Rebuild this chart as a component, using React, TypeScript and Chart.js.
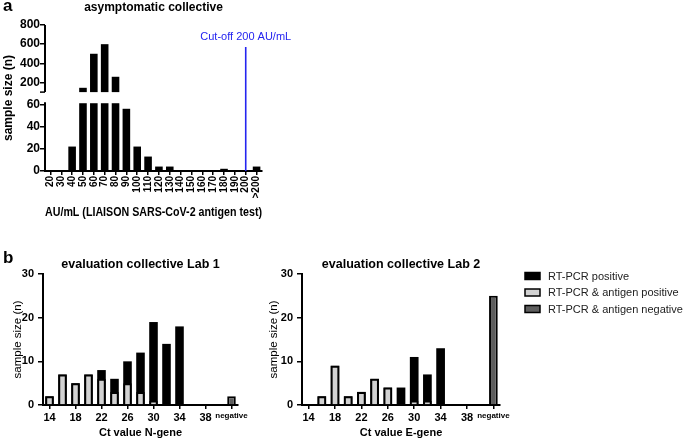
import React, { useEffect, useRef } from 'react';
import { Chart, registerables } from 'chart.js';

Chart.register(...registerables);

const FONT = "'Liberation Sans', Arial, Helvetica, sans-serif";

// ---------- Panel a: asymptomatic collective ----------
const aCategories = ['20', '30', '40', '50', '60', '70', '80', '90', '100', '110', '120', '130', '140', '150', '160', '170', '180', '190', '200', '>200'];
const aCounts = [0, 0, 22, 145, 500, 600, 260, 56, 22, 13, 4, 4, 0, 0, 0, 0, 2, 0, 0, 4];
const aYTicks = [0, 20, 40, 60, 200, 400, 600, 800];
const aCutoffCategory = '200';
const aCutoffLabel = 'Cut-off 200 AU/mL';

// ---------- Panel b: evaluation collectives ----------
const ctCategories = ['14', '16', '18', '20', '22', '24', '26', '28', '30', '32', '34', '36', '38', '40', 'negative'];
const seriesNames = ['RT-PCR positive', 'RT-PCR & antigen positive', 'RT-PCR & antigen negative'];
const lab1Positive = [2, 7, 5, 7, 8, 6, 10, 12, 19, 14, 18, 0, 0, 0, null];
const lab1AntigenPositive = [2, 7, 5, 7, 6, 3, 5, 3, 1, null, null, null, null, null, null];
const lab1Negative = [null, null, null, null, null, null, null, null, null, null, null, null, null, null, 2];
const lab2Positive = [null, 2, 9, 2, 3, 6, 4, 4, 11, 7, 13, 0, 0, 0, null];
const lab2AntigenPositive = [null, 2, 9, 2, 3, 6, 4, null, 1, 1, null, null, null, null, null];
const lab2Negative = [null, null, null, null, null, null, null, null, null, null, null, null, null, null, 25];
const bYTicks = [0, 10, 20, 30];

// broken-axis mapping for panel a (display units)
const LOW_CAP = 61;
const HIGH_BASE = 100;
const HIGH_BASE_DISPLAY = 71;
const HIGH_TOP = 800;
const HIGH_SPAN_DISPLAY = 60.4;
const toDisplay = (v: number) =>
  v <= LOW_CAP ? v : HIGH_BASE_DISPLAY + ((v - HIGH_BASE) * HIGH_SPAN_DISPLAY) / (HIGH_TOP - HIGH_BASE);

const BLACK = '#000000';
const LIGHT = '#d2d2d2';
const DARK = '#5e5e5e';

function textPlugin(items: any[]) {
  return {
    id: 'panelTexts',
    afterDraw(chart: any) {
      const ctx = chart.ctx;
      const ca = chart.chartArea;
      items.forEach((it) => {
        ctx.save();
        ctx.font = it.font;
        ctx.fillStyle = it.color || '#000';
        ctx.textAlign = it.align || 'left';
        ctx.textBaseline = 'alphabetic';
        const x = it.x === 'center' ? (ca.left + ca.right) / 2 : it.x;
        ctx.fillText(it.text, x, it.y);
        ctx.restore();
      });
    },
  };
}

const brokenAxisPlugin = {
  id: 'brokenAxis',
  afterDraw(chart: any) {
    const ctx = chart.ctx;
    const y = chart.scales.y;
    const x0 = chart.chartArea.left;
    ctx.save();
    ctx.strokeStyle = BLACK;
    ctx.lineWidth = 2;
    ctx.beginPath();
    ctx.moveTo(x0, y.getPixelForValue(0) + 1);
    ctx.lineTo(x0, y.getPixelForValue(LOW_CAP) - 1);
    ctx.moveTo(x0, y.getPixelForValue(HIGH_BASE_DISPLAY));
    ctx.lineTo(x0, y.getPixelForValue(toDisplay(HIGH_TOP)));
    ctx.stroke();
    ctx.lineWidth = 1.5;
    ctx.beginPath();
    const yb = y.getPixelForValue(HIGH_BASE_DISPLAY);
    ctx.moveTo(x0 - 5, yb);
    ctx.lineTo(x0, yb);
    ctx.stroke();
    ctx.restore();
  },
};

const cutoffPlugin = {
  id: 'cutoff',
  afterDatasetsDraw(chart: any) {
    const ctx = chart.ctx;
    const ca = chart.chartArea;
    const x = chart.scales.x.getPixelForValue(aCategories.indexOf(aCutoffCategory));
    ctx.save();
    ctx.strokeStyle = '#2424f0';
    ctx.lineWidth = 1.6;
    ctx.beginPath();
    ctx.moveTo(x, ca.top + 22);
    ctx.lineTo(x, ca.bottom);
    ctx.stroke();
    ctx.fillStyle = '#2424f0';
    ctx.font = `11px ${FONT}`;
    ctx.textAlign = 'center';
    ctx.textBaseline = 'alphabetic';
    ctx.fillText(aCutoffLabel, x, ca.top + 15);
    ctx.restore();
  },
};

const legendPlugin = {
  id: 'sideLegend',
  afterDraw(chart: any) {
    const ctx = chart.ctx;
    const ca = chart.chartArea;
    const bx = ca.right + 25;
    chart.data.datasets.forEach((ds: any, i: number) => {
      const cy = ca.top + 2 + i * 16.5;
      ctx.save();
      ctx.fillStyle = ds.backgroundColor;
      ctx.fillRect(bx, cy - 3.5, 15, 7);
      ctx.strokeStyle = BLACK;
      ctx.lineWidth = 1.5;
      ctx.strokeRect(bx, cy - 3.5, 15, 7);
      ctx.fillStyle = '#222';
      ctx.font = `11px ${FONT}`;
      ctx.textAlign = 'left';
      ctx.textBaseline = 'middle';
      ctx.fillText(ds.label, bx + 23, cy + 0.5);
      ctx.restore();
    });
  },
};

function makeAConfig(): any {
  const lower = aCounts.map((v) => [0, Math.min(v, LOW_CAP)]);
  const upper = aCounts.map((v) => (v > HIGH_BASE ? [HIGH_BASE_DISPLAY, toDisplay(v)] : null));
  const barStyle = {
    backgroundColor: BLACK,
    borderWidth: 0,
    grouped: false,
    barPercentage: 0.7,
    categoryPercentage: 1,
  };
  return {
    type: 'bar',
    data: {
      labels: aCategories,
      datasets: [
        { label: 'sample size (n)', data: lower, ...barStyle },
        { label: 'sample size (n), upper segment', data: upper, ...barStyle },
      ],
    },
    options: {
      responsive: false,
      animation: false,
      layout: { padding: { top: 25, right: 48, bottom: 0, left: 0 } },
      plugins: { legend: { display: false }, tooltip: { enabled: false } },
      scales: {
        x: {
          grid: { display: true, drawOnChartArea: false, drawTicks: true, tickLength: 4, offset: false, color: BLACK, lineWidth: 1.5 },
          border: { color: BLACK, width: 2 },
          ticks: { autoSkip: false, minRotation: 90, maxRotation: 90, padding: 1, color: BLACK, font: { size: 10, weight: 'bold' } },
          title: {
            display: true,
            text: 'AU/mL (LIAISON SARS-CoV-2 antigen test)',
            color: BLACK,
            font: { size: 12, weight: 'bold' },
            padding: { top: 0, bottom: 5 },
          },
          afterFit: (s: any) => {
            s.height = 54;
          },
        },
        y: {
          min: 0,
          max: toDisplay(HIGH_TOP),
          border: { display: false },
          grid: { display: true, drawOnChartArea: false, drawTicks: true, tickLength: 5, color: BLACK, lineWidth: 1.5 },
          ticks: {
            autoSkip: false,
            padding: 0,
            color: BLACK,
            font: { size: 12, weight: 'bold' },
            callback: (_v: any, i: number) => String(aYTicks[i]),
          },
          afterBuildTicks: (s: any) => {
            s.ticks = aYTicks.map((v) => ({ value: toDisplay(v) }));
          },
          title: {
            display: true,
            text: 'sample size (n)',
            color: BLACK,
            font: { size: 12, weight: 'bold' },
            padding: { top: 1, bottom: 0 },
          },
          afterFit: (s: any) => {
            s.width = 45;
          },
        },
      },
    },
    plugins: [
      brokenAxisPlugin,
      cutoffPlugin,
      textPlugin([
        { text: 'a', x: 3, y: 11, font: `bold 17px ${FONT}` },
        { text: 'asymptomatic collective', x: 'center', y: 10.5, font: `bold 12px ${FONT}`, align: 'center' },
      ]),
    ],
  };
}

function makeLabConfig(p: {
  title: string;
  xTitle: string;
  positive: (number | null)[];
  antigenPositive: (number | null)[];
  negative: (number | null)[];
  yWidth: number;
  yTitlePad: number;
  padRight: number;
  legend: boolean;
  panel?: string;
}): any {
  const barCommon = { grouped: false, barPercentage: 0.66, categoryPercentage: 1 };
  const texts: any[] = [{ text: p.title, x: 'center', y: 27.5, font: `bold 12.5px ${FONT}`, align: 'center' }];
  if (p.panel) texts.push({ text: p.panel, x: 3, y: 23, font: `bold 17px ${FONT}` });
  const plugins: any[] = [textPlugin(texts)];
  if (p.legend) plugins.push(legendPlugin);
  return {
    type: 'bar',
    data: {
      labels: ctCategories,
      datasets: [
        { label: seriesNames[0], data: p.positive, backgroundColor: BLACK, borderColor: BLACK, borderWidth: 0, order: 2, ...barCommon },
        { label: seriesNames[1], data: p.antigenPositive, backgroundColor: LIGHT, borderColor: BLACK, borderWidth: 2, order: 1, ...barCommon },
        { label: seriesNames[2], data: p.negative, backgroundColor: DARK, borderColor: BLACK, borderWidth: 2, order: 0, ...barCommon },
      ],
    },
    options: {
      responsive: false,
      animation: false,
      layout: { padding: { top: 34, right: p.padRight, bottom: 0, left: 0 } },
      plugins: { legend: { display: false }, tooltip: { enabled: false } },
      scales: {
        x: {
          grid: { display: true, drawOnChartArea: false, drawTicks: true, tickLength: 4, offset: false, color: BLACK, lineWidth: 1.5 },
          border: { color: BLACK, width: 2 },
          ticks: {
            autoSkip: false,
            maxRotation: 0,
            minRotation: 0,
            padding: 2,
            color: BLACK,
            font: (ctx: any) =>
              ctx.tick && ctx.tick.label === 'negative' ? { size: 8, weight: 'bold' } : { size: 11, weight: 'bold' },
            callback: (_v: any, i: number) => (i % 2 === 0 ? ctCategories[i] : null),
          },
          title: {
            display: true,
            text: p.xTitle,
            color: BLACK,
            font: { size: 11, weight: 'bold' },
            padding: { top: 0, bottom: 1.5 },
          },
          afterFit: (s: any) => {
            s.height = 36;
          },
        },
        y: {
          min: 0,
          max: 30,
          border: { color: BLACK, width: 2 },
          grid: { display: true, drawOnChartArea: false, drawTicks: true, tickLength: 5, color: BLACK, lineWidth: 1.5 },
          ticks: {
            autoSkip: false,
            padding: 4,
            color: BLACK,
            font: { size: 11, weight: 'bold' },
          },
          afterBuildTicks: (s: any) => {
            s.ticks = bYTicks.map((v) => ({ value: v }));
          },
          title: {
            display: true,
            text: 'sample size (n)',
            color: BLACK,
            font: { size: 11.5, weight: 'normal' },
            padding: { top: p.yTitlePad, bottom: 0 },
          },
          afterFit: (s: any) => {
            s.width = p.yWidth;
          },
        },
      },
    },
    plugins,
  };
}

export default function App() {
  const aRef = useRef<HTMLCanvasElement>(null);
  const b1Ref = useRef<HTMLCanvasElement>(null);
  const b2Ref = useRef<HTMLCanvasElement>(null);

  useEffect(() => {
    Chart.defaults.font.family = FONT;
    Chart.defaults.color = BLACK;
    const charts = [
      new Chart(aRef.current as HTMLCanvasElement, makeAConfig()),
      new Chart(
        b1Ref.current as HTMLCanvasElement,
        makeLabConfig({
          title: 'evaluation collective Lab 1',
          xTitle: 'Ct value N-gene',
          positive: lab1Positive,
          antigenPositive: lab1AntigenPositive,
          negative: lab1Negative,
          yWidth: 43,
          yTitlePad: 11,
          padRight: 22,
          legend: false,
          panel: 'b',
        })
      ),
      new Chart(
        b2Ref.current as HTMLCanvasElement,
        makeLabConfig({
          title: 'evaluation collective Lab 2',
          xTitle: 'Ct value E-gene',
          positive: lab2Positive,
          antigenPositive: lab2AntigenPositive,
          negative: lab2Negative,
          yWidth: 40,
          yTitlePad: 5,
          padRight: 185,
          legend: true,
        })
      ),
    ];
    return () => charts.forEach((c) => c.destroy());
  }, []);

  return (
    <div style={{ position: 'fixed', left: 0, top: 0, width: 685, height: 441, background: '#fff', overflow: 'hidden' }}>
      <canvas ref={aRef} width={310} height={225} style={{ position: 'absolute', left: 0, top: 0, width: 310, height: 225 }} />
      <canvas ref={b1Ref} width={260} height={201} style={{ position: 'absolute', left: 0, top: 240, width: 260, height: 201 }} />
      <canvas ref={b2Ref} width={423} height={201} style={{ position: 'absolute', left: 262, top: 240, width: 423, height: 201 }} />
    </div>
  );
}
